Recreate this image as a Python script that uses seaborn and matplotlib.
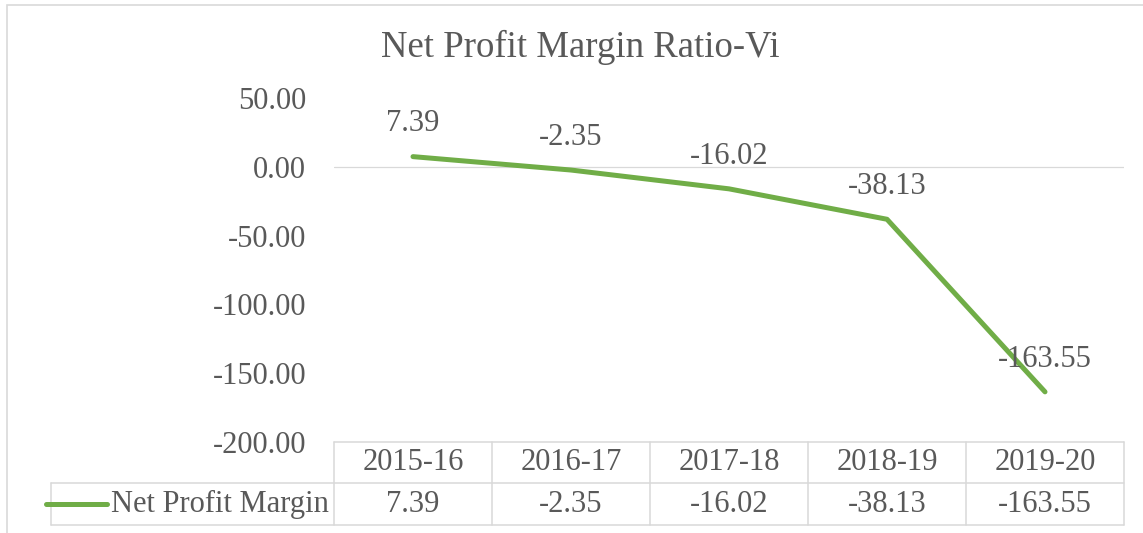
import pandas as pd
import matplotlib.pyplot as plt
import matplotlib.transforms as mtransforms
from matplotlib.lines import Line2D
from matplotlib.patches import Rectangle
import seaborn as sns

### Chart data
years = ['2015-16', '2016-17', '2017-18', '2018-19', '2019-20']
net_profit_margin = [7.39, -2.35, -16.02, -38.13, -163.55]
series_name = 'Net Profit Margin'
title = 'Net Profit Margin Ratio-Vi'
yticks = [50, 0, -50, -100, -150, -200]

GREEN = '#70AD47'
TEXT = '#595959'
GRID = '#D9D9D9'
W, H = 1143, 533
FS = 22

sns.set_style('white')
plt.rcParams['font.family'] = ['Liberation Serif', 'DejaVu Serif']

df = pd.DataFrame({'pos': range(len(years)), 'value': net_profit_margin})

fig = plt.figure(figsize=(W / 100, H / 100), dpi=100)


def fx(x):
    return x / W


def fy(y):
    return 1 - y / H


## plot area in pixel terms of the reference
ax = fig.add_axes([fx(334), fy(442), fx(1124) - fx(334), fy(98) - fy(442)])

sns.lineplot(x='pos', y='value', data=df, ax=ax, color=GREEN, linewidth=3.6,
             solid_capstyle='round', solid_joinstyle='round', zorder=3)
ax.axhline(0, color=GRID, linewidth=0.9, zorder=1)

ax.set_xlim(-0.5, len(years) - 0.5)
ax.set_ylim(-200, 50)
ax.set_yticks(yticks)
ax.set_yticklabels([f'{v:.2f}' for v in yticks])
ax.set_xticks([])
ax.set_xlabel('')
ax.set_ylabel('')
ax.tick_params(axis='y', length=0, pad=20, labelsize=FS, labelcolor=TEXT)
for s in ax.spines.values():
    s.set_visible(False)
ax.patch.set_alpha(0)

## data labels
for i, v in enumerate(net_profit_margin):
    ax.annotate(f'{v:.2f}', (i, v), xytext=(0, 23.5), textcoords='offset points',
                ha='center', va='center', fontsize=FS, color=TEXT, zorder=4)

## title
fig.text(fx(580), fy(57), title, ha='center', va='baseline', fontsize=26.5, color=TEXT)

## outer chart border (clipped at right/bottom like the reference)
fig.add_artist(Rectangle((fx(7), fy(560)), fx(1180) - fx(7), fy(5) - fy(560),
                         transform=fig.transFigure, fill=False, edgecolor=GRID, linewidth=1.2))

## data table below the chart
col_edges = [334 + 158 * i for i in range(len(years) + 1)]
def hline(x0, x1, y):
    fig.add_artist(Line2D([fx(x0), fx(x1)], [fy(y), fy(y)], transform=fig.transFigure,
                          color=GRID, linewidth=1.1))
def vline(x, y0, y1):
    fig.add_artist(Line2D([fx(x), fx(x)], [fy(y0), fy(y1)], transform=fig.transFigure,
                          color=GRID, linewidth=1.1))

hline(334, 1124, 442)
hline(51, 1124, 483)
hline(51, 1124, 525)
for x in col_edges:
    vline(x, 442, 525)
vline(51, 483, 525)

blend = mtransforms.blended_transform_factory(ax.transData, fig.transFigure)
for i, (yr, v) in enumerate(zip(years, net_profit_margin)):
    fig.text(i, fy(463), yr, transform=blend, ha='center', va='center',
             fontsize=FS, color=TEXT)
    fig.text(i, fy(504), f'{v:.2f}', transform=blend, ha='center', va='center',
             fontsize=FS, color=TEXT)

## legend key inside the table
fig.add_artist(Line2D([fx(46), fx(107)], [fy(504), fy(504)], transform=fig.transFigure,
                      color=GREEN, linewidth=3.6, solid_capstyle='round'))
fig.text(fx(111), fy(504), series_name, ha='left', va='center', fontsize=FS, color=TEXT)

plt.savefig('out.png', dpi=100)
